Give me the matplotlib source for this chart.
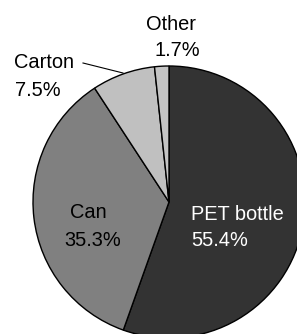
import matplotlib.pyplot as plt

# data
labels = ["PET bottle", "Can", "Carton", "Other"]
shares = [55.4, 35.3, 7.5, 1.7]
colors = ["#333333", "#808080", "#c0c0c0", "#c4c4c4"]

W, H = 297, 334
fig = plt.figure(figsize=(W / 100, H / 100), dpi=100)
ax = fig.add_axes([0, 0, 1, 1])
ax.set_xlim(0, W)
ax.set_ylim(0, H)
ax.set_aspect("equal")
ax.axis("off")

cx, cy, r = 169, H - 202, 136
ax.pie(shares, colors=colors, startangle=90, counterclock=False,
       center=(cx, cy), radius=r, frame=True,
       wedgeprops=dict(edgecolor="black", linewidth=1.0))
ax.set_xlim(0, W)
ax.set_ylim(0, H)
ax.axis("off")

font = dict(family="Liberation Sans", fontsize=14.4)
pct = ["%.1f%%" % v for v in shares]

# PET bottle (white text, left aligned)
ax.text(191, H - 215, labels[0], color="white", ha="left", va="center", **font)
ax.text(191, H - 241, pct[0], color="white", ha="left", va="center", **font)
# Can
ax.text(88, H - 213, labels[1], color="black", ha="center", va="center", **font)
ax.text(93, H - 240, pct[1], color="black", ha="center", va="center", **font)
# Carton
ax.text(44, H - 63, labels[2], color="black", ha="center", va="center", **font)
ax.text(38, H - 90, pct[2], color="black", ha="center", va="center", **font)
ax.plot([83, 123], [H - 63, H - 73], color="black", linewidth=0.8)
# Other
ax.text(171, H - 24, labels[3], color="black", ha="center", va="center", **font)
ax.text(177, H - 51, pct[3], color="black", ha="center", va="center", **font)

fig.savefig("out.png", dpi=100)
